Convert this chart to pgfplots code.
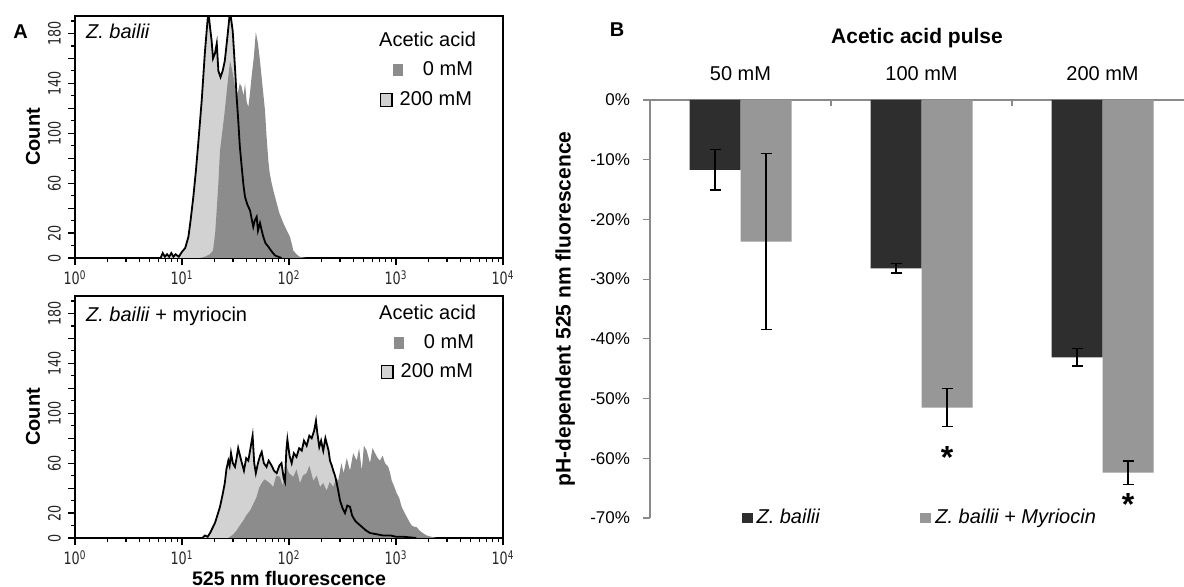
\documentclass[border=0pt]{standalone}
\usepackage{fontspec}
\setmainfont{Liberation Sans}
\newfontfamily\tickfont[FakeStretch=0.75]{DejaVu Sans}
\usepackage{pgfplots}
\usepackage{pgfplotstable}
\pgfplotsset{compat=1.18}

\definecolor{histlight}{HTML}{D2D2D2}
\definecolor{histdark}{HTML}{8C8C8C}
\definecolor{bardark}{HTML}{2E2E2E}
\definecolor{barlight}{HTML}{979797}
\definecolor{axisgray}{HTML}{8A8A8A}

% histograms: log10(525 nm fluorescence), count
\pgfplotstableread{
lx count
0.80 0
0.82 4
0.84 1
0.86 3
0.88 1
0.90 4
0.92 1
0.94 3
0.97 1
1.00 5
1.03 8
1.06 17
1.08 30
1.106 49
1.13 70
1.152 92
1.184 126
1.215 166
1.246 198
1.262 185
1.277 174
1.29 160
1.308 164
1.325 172
1.34 150
1.36 145
1.38 150
1.40 158
1.424 177
1.449 198
1.474 182
1.495 153
1.51 130
1.526 110
1.54 90
1.558 73
1.575 58
1.589 49
1.61 43
1.636 38
1.666 25
1.68 30
1.698 33
1.71 22
1.729 28
1.745 22
1.76 17
1.78 12
1.807 9
1.84 5
1.87 2
1.90 1
1.93 0
}\topacid

\pgfplotstableread{
lx count
1.17 0
1.215 1
1.26 3
1.29 6
1.31 20
1.324 38
1.34 60
1.355 86
1.375 100
1.40 118
1.42 135
1.449 158
1.47 150
1.49 140
1.51 130
1.526 134
1.54 140
1.558 137
1.575 130
1.589 140
1.605 125
1.62 121
1.635 132
1.65 145
1.67 160
1.69 181
1.71 172
1.729 158
1.75 140
1.776 118
1.79 98
1.807 78
1.82 68
1.838 60
1.86 52
1.885 44
1.91 36
1.947 28
1.98 22
2.009 17
2.03 10
2.04 6
2.07 3
2.10 1
2.16 0
}\topctrl

\pgfplotstableread{
lx count
1.19 0
1.215 2
1.24 1
1.262 4
1.285 8
1.308 12
1.33 18
1.355 25
1.38 35
1.40 44
1.415 55
1.433 62
1.445 58
1.458 68
1.475 60
1.495 57
1.51 64
1.525 72
1.542 66
1.56 60
1.579 54
1.60 64
1.62 62
1.64 72
1.66 82
1.675 60
1.69 52
1.71 60
1.73 66
1.745 69
1.765 60
1.79 57
1.81 62
1.838 58
1.86 54
1.885 52
1.91 58
1.93 60
1.95 48
1.963 45
1.975 70
1.985 79
2.005 66
2.025 60
2.045 68
2.07 65
2.095 72
2.119 70
2.14 78
2.165 74
2.19 82
2.212 80
2.235 86
2.252 94
2.265 84
2.283 73
2.30 78
2.32 70
2.34 80
2.352 76
2.37 70
2.383 62
2.40 58
2.414 54
2.43 50
2.446 44
2.46 38
2.477 30
2.50 24
2.523 20
2.545 26
2.57 25
2.59 18
2.617 14
2.64 12
2.68 9
2.72 6
2.757 4
2.82 3
2.88 2
2.95 2
3.00 1
3.07 1
3.19 0
}\botacid

\pgfplotstableread{
lx count
1.43 0
1.449 1
1.48 3
1.51 6
1.54 10
1.573 14
1.60 18
1.636 22
1.67 28
1.698 33
1.72 40
1.745 44
1.77 47
1.79 46
1.82 44
1.853 41
1.88 50
1.916 49
1.94 42
1.978 57
2.00 52
2.04 49
2.07 55
2.103 44
2.13 50
2.165 52
2.19 58
2.227 46
2.26 50
2.29 41
2.32 44
2.352 38
2.38 45
2.414 41
2.44 48
2.46 46
2.49 60
2.51 52
2.54 64
2.57 54
2.60 68
2.633 62
2.655 72
2.68 54
2.70 74
2.726 70
2.745 64
2.757 60
2.78 72
2.804 68
2.83 64
2.85 62
2.875 66
2.897 60
2.928 57
2.945 52
2.96 46
2.98 42
3.006 36
3.03 32
3.053 25
3.075 21
3.10 17
3.125 13
3.147 10
3.17 9
3.19 9
3.22 6
3.25 4
3.287 2
3.33 1
3.38 0
}\botctrl

\newcommand{\darksq}{\textcolor{histdark}{\rule{5pt}{6pt}}}
\newcommand{\lightsq}{{\setlength{\fboxsep}{0pt}\setlength{\fboxrule}{0.6pt}\fcolorbox{black}{histlight}{\rule{0pt}{6pt}\hspace{5pt}}}}

\begin{document}
\begin{tikzpicture}
\useasboundingbox (0,0) rectangle (592pt,-293.5pt);

\node[font=\bfseries\fontsize{10}{12}\selectfont] at (10.25pt,-15.85pt) {A};
\node[font=\bfseries\fontsize{10}{12}\selectfont] at (308.5pt,-15pt) {B};

% Panel A, top
\begin{axis}[at={(37.5pt,-129pt)}, anchor=south west,
    width=214pt, height=121pt, scale only axis,
    xmode=log, xmin=1, xmax=10000, ymin=0, ymax=194,
    axis line style={line width=0.9pt},
    tick pos=left, tick align=outside,
    xtick={1,10,100,1000,10000},
    xticklabels={10\textsuperscript{0},10\textsuperscript{1},10\textsuperscript{2},10\textsuperscript{3},10\textsuperscript{4}},
    minor xtick={2,3,4,5,6,7,8,9,20,30,40,50,60,70,80,90,200,300,400,500,600,700,800,900,2000,3000,4000,5000,6000,7000,8000,9000},
    ytick={0,20,...,180}, yticklabels={0,20,,60,,100,,140,,180},
    minor ytick={10,30,...,190},
    major tick length=3.5pt, minor tick length=2pt,
    tick style={black, line width=0.6pt},
    ticklabel style={font=\tickfont\fontsize{8.5}{8.5}\selectfont, text=black!85},
    xticklabel style={inner sep=0.5pt, yshift=-2pt},
    yticklabel style={rotate=90, anchor=south},
    ylabel={\textbf{Count}},
    ylabel style={at={(axis description cs:-0.098,0.5)}, anchor=center, font=\fontsize{10}{12}\selectfont}]
  \addplot[fill=histlight, draw=none] table[x expr=10^\thisrow{lx}, y=count] {\topacid} \closedcycle;
  \addplot[fill=histdark, draw=none] table[x expr=10^\thisrow{lx}, y=count] {\topctrl} \closedcycle;
  \addplot[black, line width=0.9pt] table[x expr=10^\thisrow{lx}, y=count] {\topacid};
  \node[anchor=base west, font=\itshape\fontsize{10}{12}\selectfont] at (rel axis cs:0,1) [xshift=2pt, yshift=-11.5pt] {Z. bailii};
  \node[anchor=base east, font=\fontsize{10}{12}\selectfont] at (rel axis cs:1,1) [xshift=-10pt, yshift=-15.3pt] {Acetic acid};
  \node[anchor=base east, font=\fontsize{10}{12}\selectfont] at (rel axis cs:1,1) [xshift=-11.5pt, yshift=-30pt] {\darksq\hspace{10pt}0 mM};
  \node[anchor=base east, font=\fontsize{10}{12}\selectfont] at (rel axis cs:1,1) [xshift=-12pt, yshift=-45pt] {\lightsq\hspace{3.5pt}200 mM};
\end{axis}

% Panel A, bottom
\begin{axis}[at={(37.5pt,-269pt)}, anchor=south west,
    width=214pt, height=121pt, scale only axis,
    xmode=log, xmin=1, xmax=10000, ymin=0, ymax=194,
    axis line style={line width=0.9pt},
    tick pos=left, tick align=outside,
    xtick={1,10,100,1000,10000},
    xticklabels={10\textsuperscript{0},10\textsuperscript{1},10\textsuperscript{2},10\textsuperscript{3},10\textsuperscript{4}},
    minor xtick={2,3,4,5,6,7,8,9,20,30,40,50,60,70,80,90,200,300,400,500,600,700,800,900,2000,3000,4000,5000,6000,7000,8000,9000},
    ytick={0,20,...,180}, yticklabels={0,20,,60,,100,,140,,180},
    minor ytick={10,30,...,190},
    major tick length=3.5pt, minor tick length=2pt,
    tick style={black, line width=0.6pt},
    ticklabel style={font=\tickfont\fontsize{8.5}{8.5}\selectfont, text=black!85},
    xticklabel style={inner sep=0.5pt, yshift=-2pt},
    yticklabel style={rotate=90, anchor=south},
    ylabel={\textbf{Count}},
    ylabel style={at={(axis description cs:-0.098,0.5)}, anchor=center, font=\fontsize{10}{12}\selectfont},
    xlabel={\textbf{525 nm fluorescence}},
    xlabel style={at={(axis description cs:0.5,-0.168)}, anchor=center, inner sep=0pt, font=\fontsize{9.8}{11}\selectfont}]
  \addplot[fill=histlight, draw=none] table[x expr=10^\thisrow{lx}, y=count] {\botacid} \closedcycle;
  \addplot[fill=histdark, draw=none] table[x expr=10^\thisrow{lx}, y=count] {\botctrl} \closedcycle;
  \addplot[black, line width=0.9pt] table[x expr=10^\thisrow{lx}, y=count] {\botacid};
  \node[anchor=base west, font=\fontsize{10}{12}\selectfont] at (rel axis cs:0,1) [xshift=2pt, yshift=-12.8pt] {\textit{Z. bailii} + myriocin};
  \node[anchor=base east, font=\fontsize{10}{12}\selectfont] at (rel axis cs:1,1) [xshift=-10pt, yshift=-12pt] {Acetic acid};
  \node[anchor=base east, font=\fontsize{10}{12}\selectfont] at (rel axis cs:1,1) [xshift=-11pt, yshift=-26.5pt] {\darksq\hspace{10pt}0 mM};
  \node[anchor=base east, font=\fontsize{10}{12}\selectfont] at (rel axis cs:1,1) [xshift=-11.5pt, yshift=-41pt] {\lightsq\hspace{3.5pt}200 mM};
\end{axis}

% Panel B
\begin{axis}[name=panelB, at={(325pt,-259pt)}, anchor=south west,
  width=267pt, height=209pt, scale only axis,
  xmin=0.5, xmax=3.45, ymin=-70, ymax=0,
  axis x line*=top, axis y line*=left,
  axis line style={draw=axisgray, line width=0.7pt},
  ybar=0pt, bar width=25.5pt,
  xtick={1,2,3}, xticklabels={50 mM,100 mM,200 mM},
  minor xtick={1.5,2.5},
  major x tick style={draw=none},
  tick align=outside, major tick length=3.5pt, minor tick length=-3pt,
  tick style={axisgray, line width=0.6pt},
  ytick={-70,-60,...,0},
  yticklabels={-70\%,-60\%,-50\%,-40\%,-30\%,-20\%,-10\%,0\%},
  yticklabel style={font=\fontsize{8.5}{10}\selectfont, xshift=-3pt},
  xticklabel style={font=\fontsize{10}{12}\selectfont, yshift=2.5pt},
  ylabel={\textbf{pH-dependent 525 nm fluorescence}},
  ylabel style={at={(axis description cs:-0.159,0.5)}, anchor=center, font=\fontsize{10.5}{12}\selectfont},
  legend columns=2,
  legend style={draw=none, fill=none, at={(0.507,0)}, anchor=center,
    font=\fontsize{10}{12}\selectfont,
    /tikz/every even column/.append style={column sep=48pt}},
]
  \addplot[fill=bardark, draw=none,
    legend image code/.code={\fill[bardark] (0pt,-2.5pt) rectangle (5.5pt,2.5pt);},
    error bars/.cd, y dir=both, y explicit,
    error bar style={black, line width=0.7pt},
    error mark options={rotate=90, mark size=2.75pt, black, line width=0.7pt}]
    coordinates {(1,-11.7) +- (0,3.4) (2,-28.2) +- (0,0.8) (3,-43.1) +- (0,1.45)};
  \addplot[fill=barlight, draw=none,
    legend image code/.code={\fill[barlight] (0pt,-2.5pt) rectangle (5.5pt,2.5pt);},
    error bars/.cd, y dir=both, y explicit,
    error bar style={black, line width=0.7pt},
    error mark options={rotate=90, mark size=2.75pt, black, line width=0.7pt}]
    coordinates {(1,-23.7) +- (0,14.7) (2,-51.5) +- (0,3.2) (3,-62.4) +- (0,1.95)};
  \legend{\textit{Z. bailii}, \textit{Z. bailii + Myriocin}}
  \node[font=\bfseries\fontsize{16}{16}\selectfont] at (axis cs:2,-59.8) [xshift=12.75pt] {*};
  \node[font=\bfseries\fontsize{16}{16}\selectfont] at (axis cs:3,-67.8) [xshift=12.75pt] {*};
\end{axis}
\node[font=\bfseries\fontsize{10.5}{12}\selectfont] at (panelB.north) [yshift=31pt] {Acetic acid pulse};
\end{tikzpicture}
\end{document}
